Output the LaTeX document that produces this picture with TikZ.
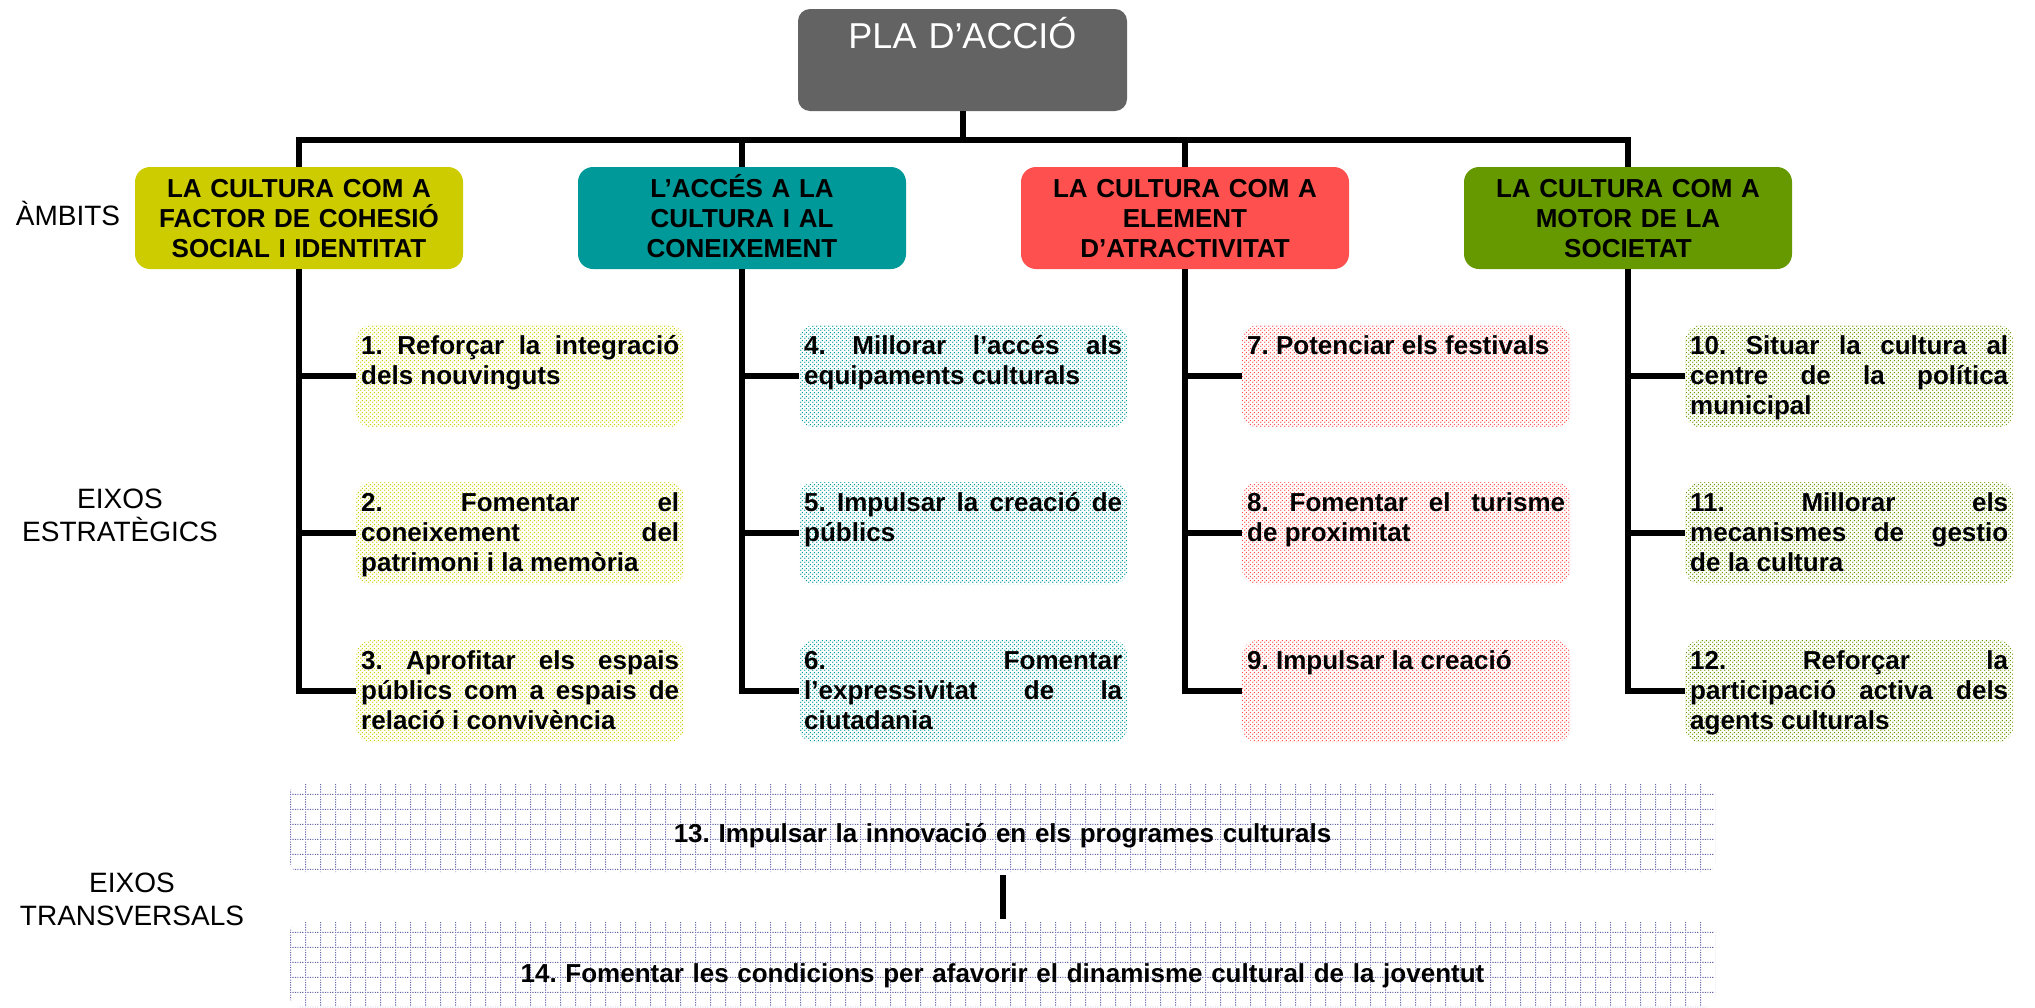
\documentclass[tikz,border=0pt]{standalone}
\usepackage{fontspec}
\setmainfont{Liberation Sans}
\usetikzlibrary{patterns}

\definecolor{plagray}{RGB}{99,99,99}
\definecolor{cyel}{RGB}{204,204,0}
\definecolor{cteal}{RGB}{0,153,153}
\definecolor{cred}{RGB}{255,80,80}
\definecolor{cgreen}{RGB}{102,153,0}
\definecolor{cgrid}{RGB}{100,100,170}

\pgfdeclarepatternformonly{sdots}{\pgfpointorigin}{\pgfpoint{4pt}{4pt}}{\pgfpoint{4pt}{4pt}}{%
  \pgfpathcircle{\pgfpoint{1pt}{1pt}}{0.9pt}%
  \pgfpathcircle{\pgfpoint{3pt}{3pt}}{0.9pt}%
  \pgfusepath{fill}}

\pgfdeclarepatternformonly{dgrid}{\pgfpointorigin}{\pgfpoint{15.3pt}{15.3pt}}{\pgfpoint{15.3pt}{15.3pt}}{%
  \pgfpathrectangle{\pgfpoint{0pt}{0pt}}{\pgfpoint{1.2pt}{1.2pt}}%
  \pgfpathrectangle{\pgfpoint{2.55pt}{0pt}}{\pgfpoint{1.2pt}{1.2pt}}%
  \pgfpathrectangle{\pgfpoint{5.1pt}{0pt}}{\pgfpoint{1.2pt}{1.2pt}}%
  \pgfpathrectangle{\pgfpoint{7.65pt}{0pt}}{\pgfpoint{1.2pt}{1.2pt}}%
  \pgfpathrectangle{\pgfpoint{10.2pt}{0pt}}{\pgfpoint{1.2pt}{1.2pt}}%
  \pgfpathrectangle{\pgfpoint{12.75pt}{0pt}}{\pgfpoint{1.2pt}{1.2pt}}%
  \pgfpathrectangle{\pgfpoint{0pt}{2.55pt}}{\pgfpoint{1.2pt}{1.2pt}}%
  \pgfpathrectangle{\pgfpoint{0pt}{5.1pt}}{\pgfpoint{1.2pt}{1.2pt}}%
  \pgfpathrectangle{\pgfpoint{0pt}{7.65pt}}{\pgfpoint{1.2pt}{1.2pt}}%
  \pgfpathrectangle{\pgfpoint{0pt}{10.2pt}}{\pgfpoint{1.2pt}{1.2pt}}%
  \pgfpathrectangle{\pgfpoint{0pt}{12.75pt}}{\pgfpoint{1.2pt}{1.2pt}}%
  \pgfusepath{fill}}

\tikzset{
  conn/.style={line width=6pt, draw=black},
  plabox/.style={fill=plagray, rounded corners=12pt, minimum width=329pt,
    text width=320pt, align=center, inner sep=0pt, text height=39pt,
    text depth=63pt, font=\fontsize{36}{40}\selectfont, text=white},
  catbox/.style={rounded corners=15pt, minimum width=328pt, text width=320pt,
    align=center, inner sep=0pt, text height=30pt, text depth=72pt,
    font=\fontsize{26}{30}\selectfont\bfseries},
  subbox/.style={rounded corners=15pt, text width=318pt, align=justify,
    inner xsep=5pt, inner ysep=0pt, text height=29.5pt, text depth=72.5pt,
    anchor=north west, pattern=sdots, font=\fontsize{26}{30}\selectfont\bfseries},
  trbox/.style={pattern=dgrid, pattern color=cgrid, rounded corners=10pt,
    minimum width=1425pt, text width=1400pt, align=center, inner sep=0pt,
    anchor=north, font=\fontsize{26}{30}\selectfont\bfseries},
  lbl/.style={font=\fontsize{28}{33}\selectfont, align=center},
}

\begin{document}
\frenchspacing
\tolerance=10000 \hbadness=10000 \hyphenpenalty=10000 \exhyphenpenalty=10000
\begin{tikzpicture}[x=1pt,y=-1pt]
\useasboundingbox (0,0) rectangle (2035,1007);

% top
\node[plabox] (pla) at (962.5,60) {PLA D’ACCIÓ};
\coordinate (bar) at (962.5,140);

% ambits
\node[catbox, fill=cyel]   (c1) at (299,218)  {LA CULTURA COM A\\FACTOR DE COHESIÓ\\SOCIAL I IDENTITAT};
\node[catbox, fill=cteal]  (c2) at (742,218)  {L’ACCÉS A LA\\CULTURA I AL\\CONEIXEMENT};
\node[catbox, fill=cred]   (c3) at (1185,218) {LA CULTURA COM A\\ELEMENT\\D’ATRACTIVITAT};
\node[catbox, fill=cgreen] (c4) at (1628,218) {LA CULTURA COM A\\MOTOR DE LA\\SOCIETAT};

% eixos estrategics
\node[subbox, pattern color=cyel] (s1) at (356,325) {1. Reforçar la integració\linebreak dels nouvinguts};
\node[subbox, pattern color=cyel] (s2) at (356,482) {2. Fomentar el\linebreak coneixement del\linebreak patrimoni i la memòria};
\node[subbox, pattern color=cyel] (s3) at (356,640) {3. Aprofitar els espais\linebreak públics com a espais de\linebreak relació i convivència};

\node[subbox, pattern color=cteal] (s4) at (799,325) {4. Millorar l’accés als\linebreak equipaments culturals};
\node[subbox, pattern color=cteal] (s5) at (799,482) {5. Impulsar la creació de\linebreak públics};
\node[subbox, pattern color=cteal] (s6) at (799,640) {6. Fomentar\linebreak l’expressivitat de la\linebreak ciutadania};

\node[subbox, pattern color=cred] (s7) at (1242,325) {7. Potenciar els festivals};
\node[subbox, pattern color=cred] (s8) at (1242,482) {8. Fomentar el turisme\linebreak de proximitat};
\node[subbox, pattern color=cred] (s9) at (1242,640) {9. Impulsar la creació};

\node[subbox, pattern color=cgreen] (s10) at (1685,325) {10. Situar la cultura al\linebreak centre de la política\linebreak municipal};
\node[subbox, pattern color=cgreen] (s11) at (1685,482) {11. Millorar els\linebreak mecanismes de gestio\linebreak de la cultura};
\node[subbox, pattern color=cgreen] (s12) at (1685,640) {12. Reforçar la\linebreak participació activa dels\linebreak agents culturals};

% eixos transversals
\node[trbox, text height=59pt, text depth=30pt] (t13) at (1002.5,783) {13. Impulsar la innovació en els programes culturals};
\node[trbox, text height=60pt, text depth=25pt] (t14) at (1002.5,922) {14. Fomentar les condicions per afavorir el dinamisme cultural de la joventut};

% left labels
\node[lbl, anchor=base] (lamb) at (68,225) {ÀMBITS};
\node[lbl, anchor=base, text width=240pt] (lest) at (120,508) {EIXOS\\ESTRATÈGICS};
\node[lbl, anchor=base, text width=260pt] (ltra) at (132,892) {EIXOS\\TRANSVERSALS};

% connectors
\draw[conn] (pla.south) -- (bar);
\draw[conn] (c1.north) |- (bar) -| (c4.north);
\draw[conn] (c2.north |- bar) -- (c2.north);
\draw[conn] (c3.north |- bar) -- (c3.north);

\draw[conn] (c1.south) |- (s3.west);
\draw[conn] (s1.west) -- (s1.west -| c1.south);
\draw[conn] (s2.west) -- (s2.west -| c1.south);

\draw[conn] (c2.south) |- (s6.west);
\draw[conn] (s4.west) -- (s4.west -| c2.south);
\draw[conn] (s5.west) -- (s5.west -| c2.south);

\draw[conn] (c3.south) |- (s9.west);
\draw[conn] (s7.west) -- (s7.west -| c3.south);
\draw[conn] (s8.west) -- (s8.west -| c3.south);

\draw[conn] (c4.south) |- (s12.west);
\draw[conn] (s10.west) -- (s10.west -| c4.south);
\draw[conn] (s11.west) -- (s11.west -| c4.south);

\draw[conn, shorten <=3pt, shorten >=3pt] (t13.south) -- (t14.north);
\end{tikzpicture}
\end{document}
